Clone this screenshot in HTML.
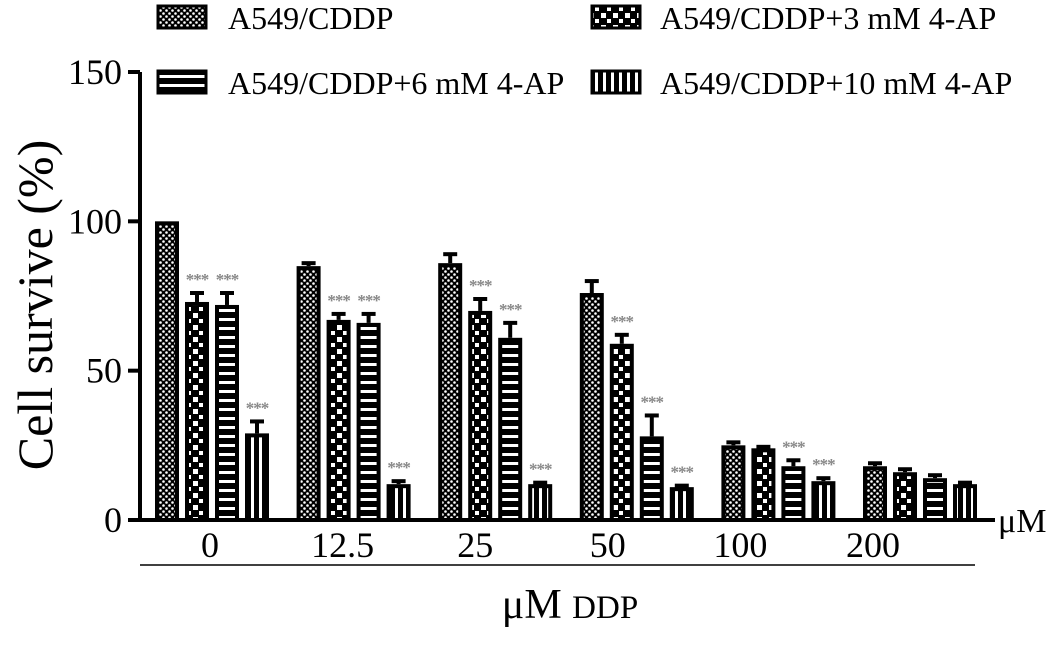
<!DOCTYPE html>
<html><head><meta charset="utf-8">
<style>
body{margin:0;background:#fff;}
svg{display:block;font-family:"Liberation Serif",serif;}
</style></head>
<body>
<svg id="chart" width="1063" height="656" viewBox="0 0 1063 656">
<defs>
<pattern id="p0" width="6" height="6" patternUnits="userSpaceOnUse"><rect width="6" height="6" fill="#000"/><circle cx="1.5" cy="1.5" r="1.3" fill="#fff"/><circle cx="4.5" cy="4.5" r="1.3" fill="#fff"/></pattern>
<pattern id="p1" width="12" height="12" patternUnits="userSpaceOnUse"><rect width="12" height="12" fill="#000"/><rect x="1" y="1" width="5" height="5" fill="#fff"/><rect x="7" y="7" width="4" height="4" fill="#fff"/></pattern>
<pattern id="p2" width="10" height="9" patternUnits="userSpaceOnUse"><rect width="10" height="9" fill="#000"/><rect y="3" width="10" height="3" fill="#fff"/></pattern>
<pattern id="p3" width="8" height="10" patternUnits="userSpaceOnUse"><rect width="8" height="10" fill="#000"/><rect x="3" width="3" height="10" fill="#fff"/></pattern>
</defs>
<g id="legend">
<g><rect x="158" y="6" width="48" height="22" fill="url(#p0)" stroke="#000" stroke-width="3"/><text x="228" y="29" font-size="32">A549/CDDP</text></g>
<g><rect x="592" y="6" width="48" height="22" fill="url(#p1)" stroke="#000" stroke-width="3"/><text x="660" y="29" font-size="32">A549/CDDP+3 mM 4-AP</text></g>
<g><rect x="158" y="71" width="48" height="22" fill="url(#p2)" stroke="#000" stroke-width="3"/><text x="228" y="94" font-size="32">A549/CDDP+6 mM 4-AP</text></g>
<g><rect x="592" y="71" width="48" height="22" fill="url(#p3)" stroke="#000" stroke-width="3"/><text x="660" y="94" font-size="32">A549/CDDP+10 mM 4-AP</text></g>
</g>
<text transform="translate(52,305) rotate(-90)" text-anchor="middle" font-size="50">Cell survive (%)</text>
<text x="998" y="532" font-size="34">μM</text>
<line x1="140" y1="565" x2="975" y2="565" stroke="#000" stroke-width="1.5"/>
<text x="570" y="618" text-anchor="middle" font-size="42">μM <tspan font-size="33">DDP</tspan></text>
<g id="marks"></g>
</svg>
<script>
const categories=["0","12.5","25","50","100","200"];
const seriesCDDP=[100,85,86,76,25,18];
const series3mM=[73,67,70,59,24,16];
const series6mM=[72,66,61,28,18,14];
const series10mM=[29,12,12,11,13,12];
const errCDDP=[0,1,3,4,1,1];
const err3mM=[3,2,4,3,0.5,1];
const err6mM=[4,3,5,7,2,1];
const err10mM=[4,1,0.5,0.5,1,0.5];
const sig3mM=[true,true,true,true,false,false];
const sig6mM=[true,true,true,true,true,false];
const sig10mM=[true,true,true,true,true,false];
const yTicks=[0,50,100,150];
const svgNS="http://www.w3.org/2000/svg";
const g=document.getElementById('marks');
const y=v=>520-v*448/150;
const groupX=i=>155+i*141.6;
const barX=(i,s)=>groupX(i)+s*30;
const labelX=i=>210+i*132.6;
const BW=24;
function mk(t,a){const e=document.createElementNS(svgNS,t);for(const k in a)e.setAttribute(k,a[k]);g.appendChild(e);return e;}
let ax=mk('line',{x1:140,y1:y(150),x2:140,y2:522,stroke:'#000','stroke-width':4});


let xa=mk('line',{x1:138,y1:520,x2:995,y2:520,stroke:'#000','stroke-width':4});


yTicks.forEach(v=>{
 let t=mk('line',{x1:128,y1:y(v),x2:140,y2:y(v),stroke:'#000','stroke-width':4});
 
 
 let l=mk('text',{x:122,y:y(v)+12,'text-anchor':'end','font-size':36});
 l.textContent=v;
 
 
});
categories.forEach((c,i)=>{
 let l=mk('text',{x:labelX(i),y:557,'text-anchor':'middle','font-size':36});
 l.textContent=c;
 
 
});
const series=[[seriesCDDP,errCDDP,null],[series3mM,err3mM,sig3mM],[series6mM,err6mM,sig6mM],[series10mM,err10mM,sig10mM]];
series.forEach(([vals,errs,sig],s)=>{
 vals.forEach((v,i)=>{
  const x=barX(i,s),cx=x+BW/2;
  if(errs[i]>0){
   let e=mk('line',{x1:cx,y1:y(v),x2:cx,y2:y(v+errs[i]),stroke:'#000','stroke-width':4});
   
   
   let c=mk('line',{x1:cx-7,y1:y(v+errs[i]),x2:cx+7,y2:y(v+errs[i]),stroke:'#000','stroke-width':4});
   
   
  }
  let r=mk('rect',{x:x+2,y:y(v)+2,width:BW-4,height:520-y(v)-2,fill:'url(#p'+s+')',stroke:'#000','stroke-width':4});
  
  
  if(sig&&sig[i]){
   let t=mk('text',{x:cx,y:y(v+errs[i])-8,'text-anchor':'middle','font-size':17,fill:'#888','font-weight':'bold','letter-spacing':'-1'});
   t.textContent='***';
   
   
  }
 });
});
</script>
</body></html>
